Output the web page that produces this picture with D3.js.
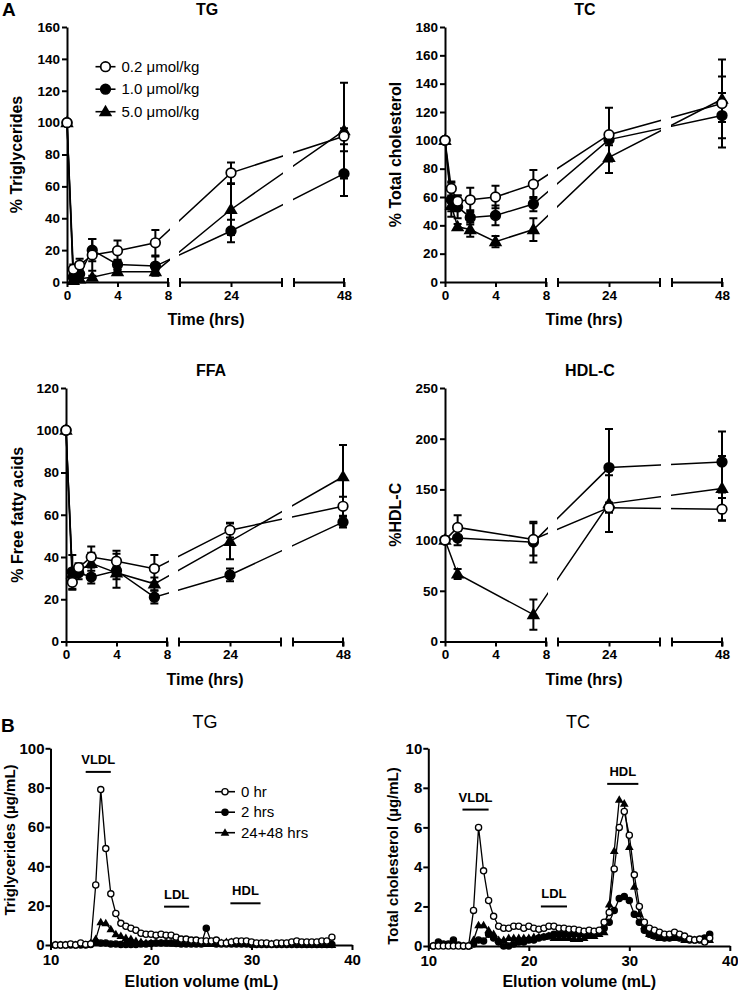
<!DOCTYPE html>
<html>
<head>
<meta charset="utf-8">
<script src="https://cdn.jsdelivr.net/npm/d3@7"></script>
<style>
  body { margin: 0; background: #fff; }
  svg text { font-family: "Liberation Sans", Arial, sans-serif; fill: #000; }
</style>
</head>
<body>
<div id="chart"></div>
<script>
"use strict";

// ---------- panel A : time course, % of baseline ----------
const timeA = [0, 0.5, 1, 2, 4, 7, 24, 48];
const timeHDL = [0, 1, 7, 24, 48];
const doseLabels = ["0.2 \u03bcmol/kg", "1.0 \u03bcmol/kg", "5.0 \u03bcmol/kg"];

const tgLow = [100, 8, 10.6, 17, 19.6, 24.6, 68.5, 91.5];
const tgLowErr = [0, 3, 4, 10, 6.5, 8, 6.5, 5];
const tgMid = [100, 3, 5, 20, 11, 10, 32, 68];
const tgMidErr = [0, 2, 3, 7, 3, 6, 7, 14];
const tgHigh = [100, 1, 2, 3, 6.5, 6.5, 45.5, 95];
const tgHighErr = [0, 1, 1, 1, 1, 1, 16, 30];

const tcLow = [100, 66, 57, 58, 60, 69, 104, 126];
const tcLowErr = [0, 5, 4, 8.5, 8, 10, 19, 31];
const tcMid = [100, 58, 53, 45.6, 47, 55, 100.5, 117.5];
const tcMidErr = [0, 12, 8, 5, 7, 5, 4, 16];
const tcHigh = [100, 54, 39, 37, 28.5, 37, 88, 129];
const tcHighErr = [0, 4, 2, 5, 4, 8, 11, 16];

const ffaLow = [100, 28, 35, 40, 38, 34.5, 52.7, 64];
const ffaLowErr = [0, 3.5, 2, 5, 5, 6.5, 3.5, 4.5];
const ffaMid = [100, 33, 32.5, 30.5, 33.5, 21, 31.5, 56.5];
const ffaMidErr = [0, 8, 3, 3, 8, 3, 3, 2.5];
const ffaHigh = [100, 32, 33.5, 37, 32.5, 27.3, 47.4, 78];
const ffaHighErr = [0, 2, 2, 5, 3, 3, 8.5, 15];

const hdlLow = [100, 112.5, 100.7, 132, 130.5];
const hdlLowErr = [0, 12, 16, 5, 11];
const hdlMid = [100, 102, 98, 171.5, 177];
const hdlMidErr = [0, 7, 20, 38, 30];
const hdlHigh = [100, 66.6, 26.5, 136, 151];
const hdlHighErr = [0, 5, 15, 28, 32];

// ---------- panel B : FPLC elution profiles ----------
const volumes = [10.5, 11, 11.5, 12, 12.5, 13, 13.5, 14,
  14.5, 15, 15.5, 16, 16.5, 17, 17.5, 18, 18.5, 19, 19.5,
  20, 20.5, 21, 21.5, 22, 22.5, 23, 23.5, 24, 24.5,
  25, 25.5, 26, 26.5, 27, 27.5, 28, 28.5, 29, 29.5,
  30, 30.5, 31, 31.5, 32, 32.5, 33, 33.5, 34, 34.5,
  35, 35.5, 36, 36.5, 37, 37.5, 38];
const fractionLabels = ["0 hr", "2 hrs", "24+48 hrs"];

const tg0hr = [0, 0, 0, 0.5, 0, 1, 0.3, 0.5,
  30.5, 79, 49, 26, 16, 11, 9.5, 8.5, 7.5, 6, 5.5,
  5.5, 5, 5.5, 5, 5, 4, 3, 3, 2.5, 2.5,
  2, 2, 2, 2.5, 1, 1, 1.5, 2, 2, 2,
  1.5, 1, 1, 1, 0.5, 1, 1, 1, 1.5, 2,
  1.5, 1.5, 1.5, 1.5, 2, 2, 4];
const tg2hr = [0, 0, 0, 0, 0, 0, 0, 0.3,
  1.5, 1, 1, 0.5, 0.5, 0.3, 0.3, 0.3, 0.3, 0.5, 0.5,
  0.8, 1, 1, 1, 1, 0.8, 0.5, 0.5, 0.5, 0.5,
  0.5, 8.5, 1.5, 0.5, 0.5, 0.5, 0.5, 0.5, 0.5, 0.5,
  0.3, 0.3, 0.3, 0.3, 0.3, 0.3, 0.3, 0.3, 0.3, 0.3,
  0.3, 0.3, 0.3, 0.3, 0.3, 0.3, 0.3];
const tg2448hr = [0, 0, 0, 0, 0, 0, 0, 1,
  3, 11.5, 11, 8, 5.5, 4.5, 3.5, 3, 2, 1.5, 1,
  1, 1, 1, 1, 0.8, 0.8, 0.5, 0.5, 0.5, 0.5,
  0.5, 0.5, 0.5, 0.5, 1, 1.5, 1.5, 1.5, 1, 1,
  0.5, 0.5, 0.5, 0.5, 0.5, 0.5, 0.5, 0.5, 0.5, 0.5,
  0.3, 0.3, 0.3, 0.3, 0.3, 0, 0];

const tc0hr = [0, 0, 0, 0, 0, 0, 0, 0,
  1.8, 6.0, 3.8, 2.3, 1.5, 1.0, 0.9, 0.9, 1.0, 1.0, 0.9,
  1.0, 0.9, 0.85, 0.9, 1.0, 1.0, 0.9, 0.9, 0.85, 0.85,
  0.8, 0.75, 0.8, 0.75, 0.8, 1.2, 1.7, 3.9, 6.0, 6.8,
  5.6, 3.6, 2.0, 1.2, 0.9, 0.8, 0.7, 0.6, 0.6, 0.7,
  0.6, 0.5, 0.35, 0.3, 0.35, 0.2, 0.4];
const tc2hr = [0, 0.2, 0.1, 0.1, 0.3, 0.05, 0, 0,
  0.1, 0.3, 0.25, 0.6, 0.4, 0.2, 0, 0, 0.1, 0.2, 0.2,
  0.3, 0.3, 0.4, 0.45, 0.5, 0.6, 0.6, 0.6, 0.6, 0.6,
  0.6, 0.6, 0.7, 0.65, 0.7, 0.9, 1.2, 1.8, 2.4, 2.5,
  2.3, 1.6, 1.2, 0.8, 0.6, 0.5, 0.45, 0.4, 0.4, 0.45,
  0.4, 0.35, 0.3, 0.3, 0.3, 0.4, 0.6];
const tc2448hr = [0, 0, 0, 0, 0, 0, 0, 0,
  0.3, 1.05, 1.05, 0.8, 0.6, 0.3, 0.3, 0.4, 0.4, 0.4, 0.4,
  0.4, 0.45, 0.45, 0.45, 0.5, 0.4, 0.4, 0.4, 0.4, 0.35,
  0.35, 0.4, 0.5, 0.5, 0.6, 0.7, 2.1, 4.8, 7.4, 7.2,
  5.0, 3.0, 1.6, 1.0, 0.6, 0.5, 0.4, 0.4, 0.4, 0.4,
  0.4, 0.3, 0.3, 0.3, 0.3, 0.3, 0.3];

// lipoprotein bars: [label, from mL, to mL, height in axis units]
const tgFractions = [["VLDL", 13.5, 16, 88], ["LDL", 21.3, 23.8, 19.5], ["HDL", 27.9, 30.9, 21.2]];
const tcFractions = [["VLDL", 13.4, 16, 6.9], ["LDL", 21.2, 23.8, 2.0], ["HDL", 27.8, 30.9, 8.2]];

const svg = d3.select("#chart").append("svg")
  .attr("width", 738)
  .attr("height", 991);

const FONT = '"Liberation Sans", Arial, sans-serif';

// circles / triangles
function drawMarkers(g, pts, sym, r) {
  if (sym === "tri") {
    g.selectAll(null).data(pts).join("path")
      .attr("d", d3.symbol(d3.symbolTriangle, r * r * 3.4)())
      .attr("transform", d => `translate(${d[0]},${d[1] + r * 0.15})`)
      .attr("fill", "#000");
  } else {
    g.selectAll(null).data(pts).join("circle")
      .attr("cx", d => d[0])
      .attr("cy", d => d[1])
      .attr("r", r)
      .attr("fill", sym === "open" ? "#fff" : "#000")
      .attr("stroke", "#000")
      .attr("stroke-width", r > 4 ? 1.7 : 1.3);
  }
}

function styleAxis(sel, size) {
  sel.selectAll("path, line").attr("stroke", "#000").attr("stroke-width", 2);
  sel.selectAll("text")
    .style("font-family", FONT)
    .style("font-size", size + "px")
    .style("font-weight", "bold");
}

// broken time axis panel
function timePanel(p) {
  const g = svg.append("g");
  const x0 = p.x0;
  const segs = [
    d3.scaleLinear().domain([0, 8]).range([x0, x0 + 101]),
    d3.scaleLinear().domain([16, 32]).range([x0 + 113, x0 + 215]),
    d3.scaleLinear().domain([40, 48]).range([x0 + 227, x0 + 277])
  ];
  const segTicks = [[0, 4, 8], [24], [48]];
  const xPos = t => t <= 8 ? segs[0](t) : (t <= 32 ? segs[1](t) : segs[2](t));
  const y = d3.scaleLinear().domain([0, p.yMax]).range([p.yBottom, p.yTop]);

  // lines are hidden in the axis gaps
  const clipId = "clip-" + p.id;
  svg.append("clipPath").attr("id", clipId)
    .selectAll("rect").data(segs).join("rect")
    .attr("x", (s, i) => s.range()[0] - (i === 0 ? 12 : 1))
    .attr("width", (s, i) => s.range()[1] - s.range()[0] + (i === 0 ? 14 : (i === 2 ? 12 : 2)))
    .attr("y", 0)
    .attr("height", 991);

  // axes
  const yAxis = g.append("g")
    .attr("transform", `translate(${x0},0)`)
    .call(d3.axisLeft(y).tickValues(d3.range(0, p.yMax + 1, p.yStep)).tickSize(5).tickSizeOuter(0).tickPadding(2));
  styleAxis(yAxis, 13.5);

  segs.forEach((s, i) => {
    const ax = g.append("g")
      .attr("transform", `translate(0,${p.yBottom})`)
      .call(d3.axisBottom(s).tickValues(segTicks[i]).tickSize(5).tickSizeOuter(0).tickPadding(3));
    styleAxis(ax, 13.5);
    const caps = i === 0 ? [s.range()[1]] : s.range();
    g.selectAll(null).data(caps).join("line")
      .attr("x1", d => d).attr("x2", d => d)
      .attr("y1", p.yBottom - 4).attr("y2", p.yBottom + 5)
      .attr("stroke", "#000").attr("stroke-width", 2);
  });

  // lines + error bars
  p.series.forEach(s => {
    const pts = p.time.map((t, i) => [xPos(t), y(s.vals[i]), s.err[i], s.vals[i]]);
    g.append("path").datum(pts)
      .attr("clip-path", `url(#${clipId})`)
      .attr("fill", "none")
      .attr("stroke", "#000")
      .attr("stroke-width", 1.5)
      .attr("d", d3.line().x(d => d[0]).y(d => d[1]));
    const eb = pts.filter(d => d[2] > 0);
    g.selectAll(null).data(eb).join("path")
      .attr("fill", "none")
      .attr("stroke", "#000")
      .attr("stroke-width", 2)
      .attr("d", d => {
        const hi = y(d[3] + d[2]), lo = y(d[3] - d[2]);
        return `M${d[0]},${hi}V${lo}M${d[0] - 4},${hi}H${d[0] + 4}M${d[0] - 4},${lo}H${d[0] + 4}`;
      });
  });
  p.series.forEach(s => {
    const pts = p.time.map((t, i) => [xPos(t), y(s.vals[i])]);
    drawMarkers(g, pts, s.sym, 4.8);
  });

  // labels
  g.append("text")
    .attr("x", x0 + p.titleDx).attr("y", p.yTop - 12)
    .attr("text-anchor", "middle")
    .style("font-size", "16px").style("font-weight", "bold")
    .text(p.title);
  g.append("text")
    .attr("x", x0 + 139).attr("y", p.yBottom + 43)
    .attr("text-anchor", "middle")
    .style("font-size", "16px").style("font-weight", "bold")
    .text("Time (hrs)");
  g.append("text")
    .attr("transform", `translate(${x0 - p.yLabelDx},${(p.yTop + p.yBottom) / 2}) rotate(-90)`)
    .attr("text-anchor", "middle")
    .style("font-size", "16px").style("font-weight", "bold")
    .text(p.yLabel);
}

// elution profile panel
function elutionPanel(p) {
  const g = svg.append("g");
  const x = d3.scaleLinear().domain([10, 40]).range([p.x0, p.x0 + 301.5]);
  const y = d3.scaleLinear().domain([0, p.yMax]).range([p.yBottom, p.yTop]);

  const xAxis = g.append("g")
    .attr("transform", `translate(0,${p.yBottom})`)
    .call(d3.axisBottom(x).tickValues([10, 20, 30, 40]).tickSize(5).tickSizeOuter(0).tickPadding(4));
  styleAxis(xAxis, 15);
  const yAxis = g.append("g")
    .attr("transform", `translate(${p.x0},0)`)
    .call(d3.axisLeft(y).tickValues(d3.range(0, p.yMax + 0.01, p.yStep)).tickSize(5).tickSizeOuter(0).tickPadding(1));
  styleAxis(yAxis, 15);

  p.series.forEach(s => {
    const pts = volumes.map((v, i) => [x(v), y(s.vals[i])]);
    g.append("path").datum(pts)
      .attr("fill", "none")
      .attr("stroke", "#000")
      .attr("stroke-width", 1.3)
      .attr("d", d3.line());
  });
  p.series.forEach(s => {
    const pts = volumes.map((v, i) => [x(v), y(s.vals[i])]);
    drawMarkers(g, pts, s.sym, 3.1);
  });

  // lipoprotein fraction bars
  g.selectAll(null).data(p.fractions).join("line")
    .attr("x1", d => x(d[1])).attr("x2", d => x(d[2]))
    .attr("y1", d => y(d[3])).attr("y2", d => y(d[3]))
    .attr("stroke", "#000").attr("stroke-width", 2);
  g.selectAll(null).data(p.fractions).join("text")
    .attr("x", d => (x(d[1]) + x(d[2])) / 2)
    .attr("y", d => y(d[3]) - 8)
    .attr("text-anchor", "middle")
    .style("font-size", "13px").style("font-weight", "bold")
    .text(d => d[0]);

  g.append("text")
    .attr("x", p.titleX).attr("y", 728)
    .attr("text-anchor", "middle")
    .style("font-size", "18px")
    .text(p.title);
  g.append("text")
    .attr("x", p.x0 + 151).attr("y", 987)
    .attr("text-anchor", "middle")
    .style("font-size", "16px").style("font-weight", "bold")
    .text("Elution volume (mL)");
  g.append("text")
    .attr("transform", `translate(${p.x0 - p.yLabelDx},${p.yLabelY}) rotate(-90)`)
    .attr("text-anchor", "middle")
    .style("font-size", "15px").style("font-weight", "bold")
    .text(p.yLabel);
}

function legend(labels, x, y0, dy, r, size) {
  const syms = ["open", "filled", "tri"];
  const g = svg.append("g");
  labels.forEach((lab, i) => {
    const cy = y0 + i * dy;
    g.append("line")
      .attr("x1", x - 10).attr("x2", x + 10)
      .attr("y1", cy).attr("y2", cy)
      .attr("stroke", "#000").attr("stroke-width", 1.6);
    drawMarkers(g, [[x, cy]], syms[i], r);
    g.append("text")
      .attr("x", x + 16).attr("y", cy + 5)
      .style("font-size", size + "px")
      .text(lab);
  });
}

function ser(low, lowErr, mid, midErr, high, highErr) {
  return [
    { sym: "tri", vals: high, err: highErr },
    { sym: "filled", vals: mid, err: midErr },
    { sym: "open", vals: low, err: lowErr }
  ];
}

timePanel({ id: "tg", x0: 67, yTop: 27, yBottom: 282, yMax: 160, yStep: 20, time: timeA,
  title: "TG", titleDx: 140, yLabel: "% Triglycerides", yLabelDx: 45,
  series: ser(tgLow, tgLowErr, tgMid, tgMidErr, tgHigh, tgHighErr) });
timePanel({ id: "tc", x0: 445, yTop: 27, yBottom: 282, yMax: 180, yStep: 20, time: timeA,
  title: "TC", titleDx: 140, yLabel: "% Total cholesterol", yLabelDx: 44,
  series: ser(tcLow, tcLowErr, tcMid, tcMidErr, tcHigh, tcHighErr) });
timePanel({ id: "ffa", x0: 66, yTop: 388, yBottom: 641.5, yMax: 120, yStep: 20, time: timeA,
  title: "FFA", titleDx: 145, yLabel: "% Free fatty acids", yLabelDx: 43,
  series: ser(ffaLow, ffaLowErr, ffaMid, ffaMidErr, ffaHigh, ffaHighErr) });
timePanel({ id: "hdl", x0: 445, yTop: 388, yBottom: 641.5, yMax: 250, yStep: 50, time: timeHDL,
  title: "HDL-C", titleDx: 145, yLabel: "%HDL-C", yLabelDx: 44,
  series: ser(hdlLow, hdlLowErr, hdlMid, hdlMidErr, hdlHigh, hdlHighErr) });

legend(doseLabels, 105.5, 66.7, 22.5, 4.8, 15);

elutionPanel({ x0: 50.5, yTop: 748.3, yBottom: 945, yMax: 100, yStep: 20,
  title: "TG", titleX: 205, yLabel: "Triglycerides (\u00b5g/mL)", yLabelDx: 36, yLabelY: 840,
  fractions: tgFractions,
  series: [{ sym: "tri", vals: tg2448hr }, { sym: "filled", vals: tg2hr }, { sym: "open", vals: tg0hr }] });
elutionPanel({ x0: 428.3, yTop: 748.3, yBottom: 946, yMax: 10, yStep: 2,
  title: "TC", titleX: 578, yLabel: "Total cholesterol (\u00b5g/mL)", yLabelDx: 30, yLabelY: 856,
  fractions: tcFractions,
  series: [{ sym: "tri", vals: tc2448hr }, { sym: "filled", vals: tc2hr }, { sym: "open", vals: tc0hr }] });

legend(fractionLabels, 225, 791.7, 20.5, 3.1, 15);

// panel letters
svg.append("text").attr("x", 2).attr("y", 16)
  .style("font-size", "19px").style("font-weight", "bold").text("A");
svg.append("text").attr("x", 1).attr("y", 732)
  .style("font-size", "19px").style("font-weight", "bold").text("B");
</script>
</body>
</html>
